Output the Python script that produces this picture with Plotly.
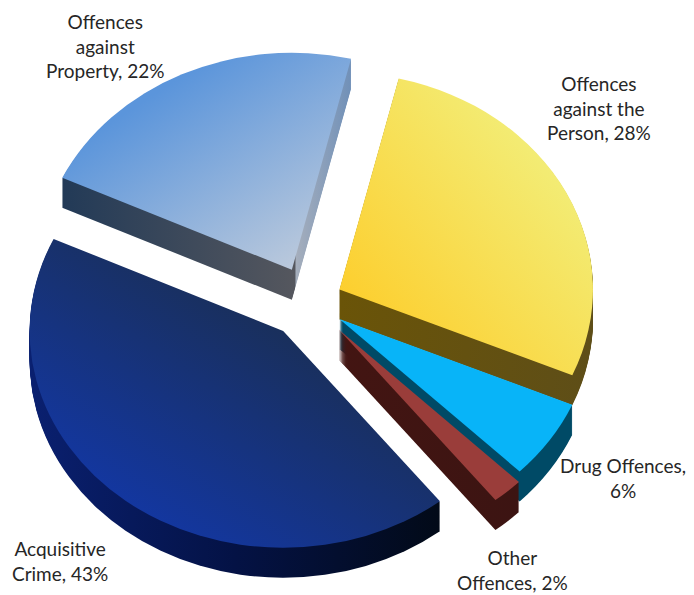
import json
import plotly.graph_objects as go

categories = ["Offences against the Person", "Drug Offences", "Other Offences", "Acquisitive Crime", "Offences against Property"]
values = [28, 6, 2, 43, 22]
pulls = [0.13, 0.14, 0.17, 0.17, 0.165]
labels = ["Offences<br>against the<br>Person, 28%", "Drug Offences,<br>6%", "Other<br>Offences, 2%", "Acquisitive<br>Crime, 43%", "Offences<br>against<br>Property, 22%"]
label_x = [599, 623, 512, 60, 105]
label_y = [108, 478, 570, 561, 46]
top_grad = [[[0, "#FFC81E"], [1, "#EFF78F"]], [[0, "#08B4F8"], [1, "#08B4F8"]], [[0, "#9A3D3A"], [1, "#9A3D3A"]],
            [[0, "#1238AC"], [1, "#1B2D48"]], [[0, "#5B95DB"], [1, "#C2CDDC"]]]
side_grad = [[[0, "#6A5408"], [1, "#5E4E18"]], [[0, "#004A66"], [1, "#004A66"]], [[0, "#431512"], [1, "#3C1412"]],
             [[0, "#0A2070"], [0.5, "#041245"], [1, "#020A18"]],
             [[0, "#223A57"], [0.805, "#55575E"], [0.81, "#A5AEBC"], [1, "#7090B8"]]]
top_dirs = [[0, 1, 1, 0], [0, 0, 1, 0], [0, 0, 1, 0], [0.1, 0.9, 0.75, 0.15], [0.25, 0.25, 0.9, 1]]
side_dirs = [[0, 0, 1, 0]] * 5
DEPTH = 30
CX, CY, SX, SY = 310, 302, 0.997, 0.853

fig = go.Figure()
for d in range(DEPTH, -1, -1):
    cols = [g[0][1] for g in (side_grad if d else top_grad)]
    fig.add_trace(go.Pie(labels=categories, values=values, pull=pulls, rotation=13.5, sort=False,
                         direction="clockwise", textinfo="none", hoverinfo="skip",
                         marker=dict(colors=cols, line=dict(width=0)), showlegend=False))
for t, x, y in zip(labels, label_x, label_y):
    fig.add_annotation(text=t, x=x, y=y, xref="x", yref="y", showarrow=False, align="center",
                       font=dict(family="Lato, Carlito, sans-serif", size=19, color="#262626"))
fig.add_trace(go.Scatter(x=[0, 694], y=[0, 595], mode="none", showlegend=False, hoverinfo="skip"))
fig.update_layout(width=694, height=595, margin=dict(l=0, r=0, t=0, b=0), paper_bgcolor="white", plot_bgcolor="white",
                  showlegend=False,
                  xaxis=dict(visible=False, range=[0, 694], domain=[0, 1], fixedrange=True),
                  yaxis=dict(visible=False, range=[595, 0], domain=[0, 1], fixedrange=True))

js = """
document.body.style.margin='0';
var gd=document.getElementById('{plot_id}');
var top_grad=%s, side_grad=%s, top_dirs=%s, side_dirs=%s;
var CX=%d,CY=%d,SX=%f,SY=%f;
var NS='http://www.w3.org/2000/svg';
var svg=gd.querySelector('.main-svg');
var defs=svg.querySelector('defs');
function mk(id,c,dir){
  var g=document.createElementNS(NS,'linearGradient');
  g.setAttribute('id',id);
  ['x1','y1','x2','y2'].forEach(function(k,i){g.setAttribute(k,dir[i]);});
  c.forEach(function(st){var s=document.createElementNS(NS,'stop');
    s.setAttribute('offset',st[0]);s.setAttribute('stop-color',st[1]);g.appendChild(s);});
  defs.appendChild(g);
}
top_grad.forEach(function(c,i){mk('gt'+i,c,top_dirs[i]);});
side_grad.forEach(function(c,i){mk('gs'+i,c,side_dirs[i]);});
var w=gd._fullLayout.width,h=gd._fullLayout.height;
var traces=gd.querySelectorAll('.pielayer > .trace');
var n=traces.length;
traces.forEach(function(tr,k){
  var d=n-1-k;
  tr.setAttribute('transform','translate('+CX+','+(CY+d)+') scale('+SX+','+SY+') translate('+(-w/2)+','+(-h/2)+')');
  tr.querySelectorAll('g.slice path.surface').forEach(function(p,i){
    p.style.fill='url(#'+(d?'gs':'gt')+i+')';
  });
});
""" % (json.dumps(top_grad), json.dumps(side_grad), json.dumps(top_dirs), json.dumps(side_dirs), CX, CY, SX, SY)

fig.write_html("out.html", post_script=js, config={"displayModeBar": False})
